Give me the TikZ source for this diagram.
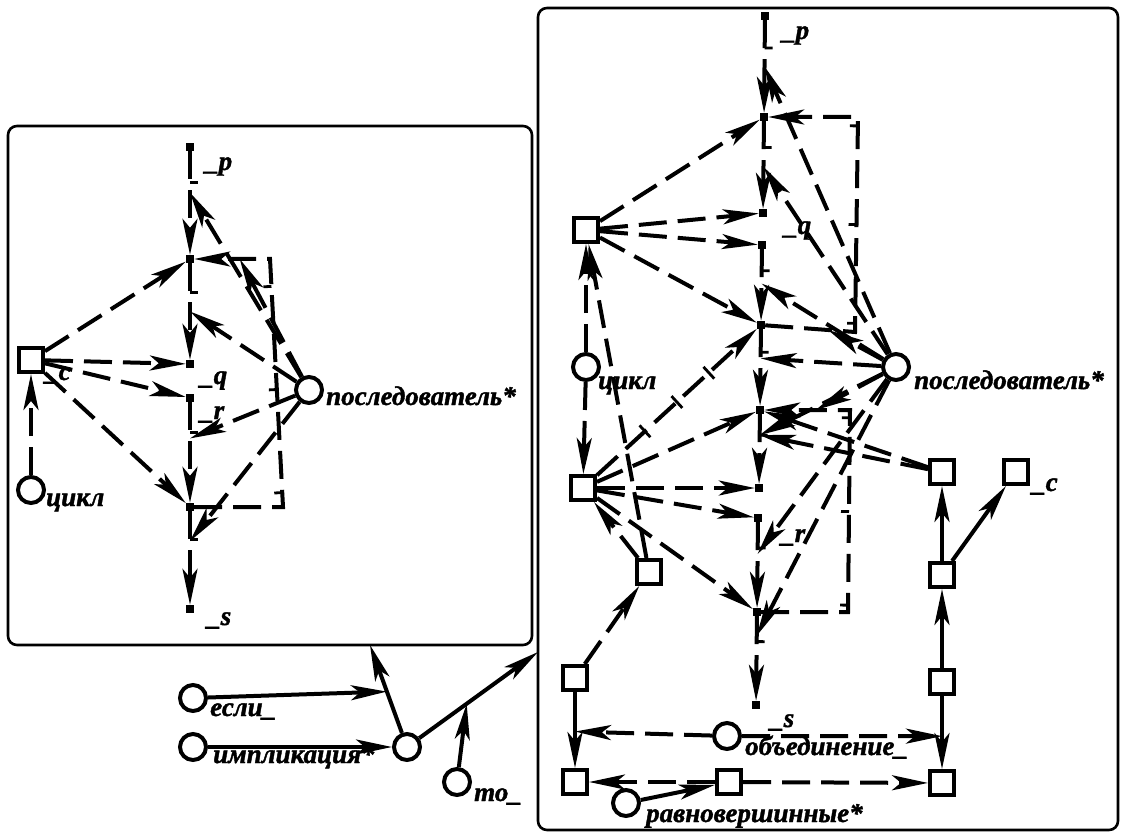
\documentclass[tikz,border=0pt]{standalone}
\usepackage{fontspec}
\setmainfont{Liberation Serif}[BoldItalicFeatures={FakeBold=1.5}]
\usetikzlibrary{arrows.meta,decorations.markings}
\tikzset{
  ln/.style={line width=4pt},
  arr/.style={ln,-{Stealth[length=36pt,width=15pt,inset=9pt]}},
  darc/.style={arr,dash pattern=on 28pt off 11pt},
  tk/.style={postaction={decorate,decoration={markings,
    mark=at position #1 with {\draw[-,solid,line width=2.8pt] (0,0) -- (0,8pt);}}}},
  tkx/.style={postaction={decorate,decoration={markings,
    mark=at position #1 with {\draw[-,solid,line width=2.8pt] (0,-8pt) -- (0,8pt);}}}},
  varc/.style={darc,tk=0.3},
  brarc/.style={darc,tk=0.25,tk=0.5,tk=0.75},
  xarc/.style={darc,tkx=0.3,tkx=0.5,tkx=0.7},
  sq/.style={draw,line width=4pt,minimum size=24pt,inner sep=0pt},
  cn/.style={circle,draw,line width=4pt,minimum size=26pt,inner sep=0pt},
  dt/.style={fill,minimum size=8pt,inner sep=0pt},
  lbl/.style={font=\fontsize{27}{30}\selectfont\bfseries\itshape,inner sep=0pt,anchor=base west},
  frame/.style={line width=2.6pt,rounded corners=9pt}
}
\begin{document}
\begin{tikzpicture}[x=1pt,y=-1pt]
\useasboundingbox (0,0) rectangle (1121,834);
% left structure
\draw[frame] (8,126) rectangle (532,645);
\node[dt] (lp) at (190,147) {};
\node[dt] (ld1) at (190,259) {};
\node[dt] (lq) at (190,364) {};
\node[dt] (lr) at (190,398) {};
\node[dt] (ld5) at (190,507) {};
\node[dt] (ls) at (190,609) {};
\node[lbl] at (205,170) {\_p};
\node[lbl] at (200,384) {\_q};
\node[lbl] at (200,419) {\_r};
\node[lbl] at (207,625) {\_s};
\node[sq] (lc) at (31,360) {};
\node[lbl] at (45,380) {\_c};
\node[cn] (lcyc) at (31,490) {};
\node[lbl] at (46,506) {цикл};
\node[cn] (lsucc) at (309,390) {};
\node[lbl] at (326,405) {последователь*};
\coordinate (lb1) at (283,507);
\coordinate (lb2) at (270,259);
\draw[varc] (lp) -- (ld1);
\draw[varc] (ld1) -- (lq);
\draw[varc] (lr) -- (ld5);
\draw[varc] (ld5) -- (ls);
\draw[brarc] (ld5) -- (lb1) -- (lb2) -- (ld1);
\path (lp) -- coordinate[pos=0.4] (lpa) (ld1);
\path (ld1) -- coordinate[pos=0.5] (lqa) (lq);
\path (lr) -- coordinate[pos=0.36] (lra) (ld5);
\path (ld5) -- coordinate[pos=0.32] (lsa) (ls);
\path (lb2) -- coordinate[pos=0.4] (lba) (ld1);
\foreach \t in {ld1,lq,lr,ld5}
  \draw[darc] (lc) -- (\t);
\draw[darc] (lcyc) -- (lc);
\foreach \t in {lpa,lba,lqa,lra,lsa}
  \draw[darc] (lsucc) -- (\t);
% implication
\node[cn] (impl) at (407,747) {};
\node[cn] (ifc) at (193,698) {};
\node[lbl] at (210,716) {если\_};
\node[cn] (implc) at (193,747) {};
\node[lbl] at (213,763) {импликация*};
\node[cn] (thenc) at (457,782) {};
\node[lbl] at (474,801) {то\_};
\coordinate (lfb) at (370,645);
\coordinate (rfl) at (538,652);
\draw[arr] (impl) -- (lfb);
\draw[arr] (impl) -- (rfl);
\path (impl) -- coordinate[pos=0.47] (ifa) (lfb);
\path (impl) -- coordinate[pos=0.4] (tha) (rfl);
\draw[arr] (ifc) -- (ifa);
\draw[arr] (implc) -- (impl);
\draw[arr] (thenc) -- (tha);
% right structure
\draw[frame] (538,8) rectangle (1118,830);
\node[dt] (rp) at (765,16) {};
\node[dt] (rd2) at (764,117) {};
\node[dt] (rq1) at (763,213) {};
\node[dt] (rq2) at (762,245) {};
\node[dt] (rd5) at (761,325) {};
\node[dt] (rd6) at (760,410) {};
\node[dt] (rd8) at (759,488) {};
\node[dt] (rd9) at (758,518) {};
\node[dt] (rd10) at (757,612) {};
\node[dt] (rs) at (756,705) {};
\node[lbl] at (782,39) {\_p};
\node[lbl] at (784,234) {\_q};
\node[lbl] at (781,542) {\_r};
\node[lbl] at (770,727) {\_s};
\node[sq] (rA) at (586,230) {};
\node[sq] (rB) at (583,488) {};
\node[sq] (rS) at (649,572) {};
\node[sq] (rL) at (575,678) {};
\node[sq] (rBL) at (575,782) {};
\node[sq] (rBM) at (729,782) {};
\node[sq] (rBR) at (942,783) {};
\node[sq] (rT1) at (942,472) {};
\node[sq] (rTc) at (1016,472) {};
\node[sq] (rT2) at (942,575) {};
\node[sq] (rT3) at (942,682) {};
\node[lbl] at (1032,491) {\_c};
\node[cn] (rcyc) at (586,367) {};
\node[lbl] at (598,389) {цикл};
\node[cn] (rsucc) at (896,367) {};
\node[lbl] at (914,389) {последователь*};
\node[cn] (union) at (727,736) {};
\node[lbl] at (745,755) {объединение\_};
\node[cn] (equal) at (626,803) {};
\node[lbl] at (646,822) {равновершинные*};
\coordinate (rb1) at (855,332);
\coordinate (rb2) at (858,117);
\coordinate (rb3) at (848,612);
\coordinate (rb4) at (850,410);
\draw[varc] (rp) -- (rd2);
\draw[varc] (rd2) -- (rq1);
\draw[varc] (rq2) -- (rd5);
\draw[varc] (rd5) -- (rd6);
\draw[varc] (rd6) -- (rd8);
\draw[varc] (rd9) -- (rd10);
\draw[varc] (rd10) -- (rs);
\draw[brarc] (rd5) -- (rb1) -- (rb2) -- (rd2);
\draw[brarc] (rd10) -- (rb3) -- (rb4) -- (rd6);
\path (rp) -- coordinate[pos=0.5] (rpa) (rd2);
\path (rd2) -- coordinate[pos=0.52] (rqa) (rq1);
\path (rq2) -- coordinate[pos=0.48] (r5a) (rd5);
\path (rd5) -- coordinate[pos=0.38] (r6a) (rd6);
\path (rd6) -- coordinate[pos=0.3] (r8a) (rd8);
\path (rd9) -- coordinate[pos=0.37] (rra) (rd10);
\path (rd10) -- coordinate[pos=0.23] (rsa) (rs);
\path (rd5) -- coordinate[pos=0.7] (rba) (rb1);
\path (rb4) -- coordinate[pos=0.4] (rbb) (rd6);
\foreach \t in {rd2,rq1,rq2,rd5}
  \draw[darc] (rA) -- (\t);
\draw[xarc] (rB) -- (rd5);
\foreach \t in {rd6,rd8,rd9,rd10}
  \draw[darc] (rB) -- (\t);
\draw[darc] (rcyc) -- (rA);
\draw[darc] (rcyc) -- (rB);
\draw[darc] (rS) -- (rA);
\draw[darc] (rS) -- (rB);
\draw[darc] (rL) -- (rS);
\foreach \t in {rpa,rba,rqa,r5a,r6a,rbb,r8a,rra,rsa}
  \draw[darc] (rsucc) -- (\t);
\draw[darc] (rT1) -- (rd6);
\draw[darc] (rT1) -- (r8a);
\draw[arr] (rT3) -- (rT2);
\draw[arr] (rT2) -- (rT1);
\draw[arr] (rT2) -- (rTc);
\draw[arr] (rL) -- (rBL);
\draw[arr] (rT3) -- (rBR);
\path (rL) -- coordinate[pos=0.52] (rla) (rBL);
\path (rT3) -- coordinate[pos=0.55] (rta) (rBR);
\draw[darc] (union) -- (rla);
\draw[darc] (union) -- (rta);
\draw[darc] (rBM) -- (rBL);
\draw[darc] (rBM) -- (rBR);
\draw[arr] (equal) -- (rBM);
\end{tikzpicture}
\end{document}
